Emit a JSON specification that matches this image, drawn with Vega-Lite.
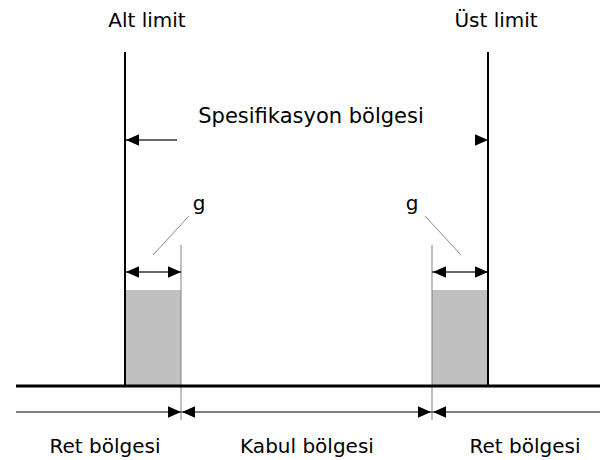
{
  "$schema": "https://vega.github.io/schema/vega-lite/v6.json",
  "width": 616,
  "height": 460,
  "padding": 0,
  "autosize": {"type": "fit", "contains": "padding"},
  "config": {"view": {"stroke": null}, "font": "DejaVu Sans"},
  "datasets": {
    "zones": [{"x": 125, "x2": 181, "y": 290, "y2": 386}, {"x": 432, "x2": 488, "y": 290, "y2": 386}],
    "limits": [{"x": 125, "y": 52, "x2": 125, "y2": 386}, {"x": 488, "y": 52, "x2": 488, "y2": 386}],
    "base": [{"x": 16, "y": 386, "x2": 600, "y2": 386}],
    "guides": [{"x": 181, "y": 245, "x2": 181, "y2": 420}, {"x": 432, "y": 245, "x2": 432, "y2": 420}],
    "scaleline": [{"x": 16, "y": 412, "x2": 600, "y2": 412}],
    "shafts": [{"x": 125, "y": 272, "x2": 181, "y2": 272}, {"x": 432, "y": 272, "x2": 488, "y2": 272}, {"x": 125, "y": 140, "x2": 177, "y2": 140}],
    "leaders": [{"x": 189, "y": 216, "x2": 153, "y2": 255}, {"x": 425, "y": 216, "x2": 461, "y2": 255}],
    "heads": [
      {"x": 126, "y": 272, "dir": "left"}, {"x": 181, "y": 272, "dir": "right"},
      {"x": 433, "y": 272, "dir": "left"}, {"x": 488, "y": 272, "dir": "right"},
      {"x": 126, "y": 140, "dir": "left"}, {"x": 488, "y": 140, "dir": "right"},
      {"x": 181, "y": 412, "dir": "right"}, {"x": 182, "y": 412, "dir": "left"},
      {"x": 431, "y": 412, "dir": "right"}, {"x": 433, "y": 412, "dir": "left"}
    ],
    "labels": [
      {"x": 147, "y": 27, "text": "Alt limit"},
      {"x": 496, "y": 27, "text": "Üst limit"},
      {"x": 199, "y": 210, "text": "g"},
      {"x": 412, "y": 210, "text": "g"},
      {"x": 105, "y": 453, "text": "Ret bölgesi"},
      {"x": 307, "y": 453, "text": "Kabul bölgesi"},
      {"x": 525, "y": 453, "text": "Ret bölgesi"}
    ],
    "spec": [
      {"x": 311, "y": 123, "text": "Spesifikasyon bölgesi"}
    ]
  },
  "layer": [
    {
      "data": {"name": "zones"},
      "mark": {"type": "rect", "fill": "#c0c0c0"},
      "encoding": {
        "x": {"field": "x", "type": "quantitative", "scale": {"domain": [0, 616], "nice": false, "zero": false}, "axis": null},
        "x2": {"field": "x2"},
        "y": {"field": "y", "type": "quantitative", "scale": {"domain": [0, 460], "nice": false, "zero": false, "reverse": true}, "axis": null},
        "y2": {"field": "y2"}
      }
    },
    {
      "data": {"name": "guides"},
      "mark": {"type": "rule", "stroke": "#808080", "strokeWidth": 1},
      "encoding": {
        "x": {"field": "x", "type": "quantitative"}, "x2": {"field": "x2"},
        "y": {"field": "y", "type": "quantitative"}, "y2": {"field": "y2"}
      }
    },
    {
      "data": {"name": "scaleline"},
      "mark": {"type": "rule", "stroke": "#555555", "strokeWidth": 1.5},
      "encoding": {
        "x": {"field": "x", "type": "quantitative"}, "x2": {"field": "x2"},
        "y": {"field": "y", "type": "quantitative"}, "y2": {"field": "y2"}
      }
    },
    {
      "data": {"name": "leaders"},
      "mark": {"type": "rule", "stroke": "#8a8a8a", "strokeWidth": 1},
      "encoding": {
        "x": {"field": "x", "type": "quantitative"}, "x2": {"field": "x2"},
        "y": {"field": "y", "type": "quantitative"}, "y2": {"field": "y2"}
      }
    },
    {
      "data": {"name": "shafts"},
      "mark": {"type": "rule", "stroke": "#333333", "strokeWidth": 1.5},
      "encoding": {
        "x": {"field": "x", "type": "quantitative"}, "x2": {"field": "x2"},
        "y": {"field": "y", "type": "quantitative"}, "y2": {"field": "y2"}
      }
    },
    {
      "data": {"name": "limits"},
      "mark": {"type": "rule", "stroke": "#000000", "strokeWidth": 2},
      "encoding": {
        "x": {"field": "x", "type": "quantitative"}, "x2": {"field": "x2"},
        "y": {"field": "y", "type": "quantitative"}, "y2": {"field": "y2"}
      }
    },
    {
      "data": {"name": "base"},
      "mark": {"type": "rule", "stroke": "#000000", "strokeWidth": 3},
      "encoding": {
        "x": {"field": "x", "type": "quantitative"}, "x2": {"field": "x2"},
        "y": {"field": "y", "type": "quantitative"}, "y2": {"field": "y2"}
      }
    },
    {
      "data": {"name": "heads"},
      "mark": {"type": "point", "filled": true, "color": "#000000", "opacity": 1, "size": 169, "strokeWidth": 0},
      "encoding": {
        "x": {"field": "x", "type": "quantitative"},
        "y": {"field": "y", "type": "quantitative"},
        "shape": {"field": "dir", "type": "nominal", "legend": null,
          "scale": {"domain": ["left", "right"], "range": ["M0,0L2,-0.9L2,0.9Z", "M0,0L-2,-0.9L-2,0.9Z"]}}
      }
    },
    {
      "data": {"name": "labels"},
      "mark": {"type": "text", "align": "center", "baseline": "alphabetic", "fontSize": 20, "color": "#000000", "font": "DejaVu Sans"},
      "encoding": {
        "x": {"field": "x", "type": "quantitative"},
        "y": {"field": "y", "type": "quantitative"},
        "text": {"field": "text"}
      }
    },
    {
      "data": {"name": "spec"},
      "mark": {"type": "text", "align": "center", "baseline": "alphabetic", "fontSize": 21, "color": "#000000", "font": "DejaVu Sans"},
      "encoding": {
        "x": {"field": "x", "type": "quantitative"},
        "y": {"field": "y", "type": "quantitative"},
        "text": {"field": "text"}
      }
    }
  ]
}
